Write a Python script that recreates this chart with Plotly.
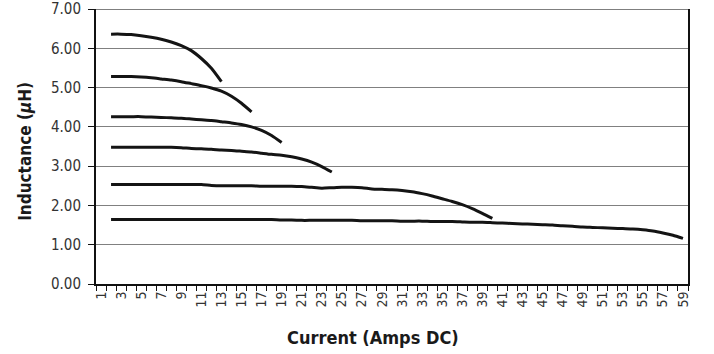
import plotly.graph_objects as go

# Data (Inductance in µH vs Current in Amps DC)
cur_a = list(range(2, 14))
ind_a = [6.36, 6.36, 6.35, 6.32, 6.28, 6.23, 6.16, 6.07, 5.94, 5.74, 5.49, 5.15]

cur_b = list(range(2, 17))
ind_b = [5.28, 5.28, 5.28, 5.27, 5.25, 5.22, 5.19, 5.15, 5.10, 5.05, 4.99, 4.91, 4.78, 4.60, 4.38]

cur_c = list(range(2, 20))
ind_c = [4.26, 4.26, 4.26, 4.26, 4.25, 4.24, 4.23, 4.22, 4.20, 4.18, 4.16, 4.13, 4.10, 4.06,
         4.00, 3.91, 3.78, 3.60]

cur_d = list(range(2, 25))
ind_d = [3.48, 3.48, 3.48, 3.48, 3.48, 3.48, 3.48, 3.47, 3.45, 3.44, 3.43, 3.41, 3.40, 3.38,
         3.36, 3.33, 3.30, 3.28, 3.24, 3.18, 3.10, 2.99, 2.85]

cur_e = list(range(2, 41))
ind_e = [2.53, 2.53, 2.53, 2.53, 2.53, 2.53, 2.53, 2.53, 2.53, 2.53, 2.51, 2.50, 2.50, 2.50,
         2.50, 2.49, 2.49, 2.49, 2.49, 2.48, 2.46, 2.44, 2.45, 2.46, 2.46, 2.45, 2.42, 2.41,
         2.40, 2.38, 2.35, 2.30, 2.24, 2.17, 2.10, 2.02, 1.92, 1.80, 1.67]

cur_f = list(range(2, 60))
ind_f = [1.64, 1.64, 1.64, 1.64, 1.64, 1.64, 1.64, 1.64, 1.64, 1.64, 1.64, 1.64, 1.64, 1.64,
         1.64, 1.64, 1.64, 1.63, 1.63, 1.62, 1.62, 1.62, 1.62, 1.62, 1.62, 1.61, 1.61, 1.61,
         1.61, 1.60, 1.60, 1.60, 1.59, 1.59, 1.59, 1.58, 1.57, 1.57, 1.56, 1.55, 1.54, 1.53,
         1.52, 1.51, 1.50, 1.48, 1.47, 1.45, 1.44, 1.43, 1.42, 1.41, 1.40, 1.38, 1.35, 1.30,
         1.24, 1.16]

x_categories = list(range(1, 60))
x_tick_vals = list(range(1, 60, 2))
y_tick_vals = [0, 1, 2, 3, 4, 5, 6, 7]

FONT = "Liberation Sans Narrow, DejaVu Sans Condensed, Roboto, sans-serif"

fig = go.Figure()
for xs, ys in [(cur_a, ind_a), (cur_b, ind_b), (cur_c, ind_c),
               (cur_d, ind_d), (cur_e, ind_e), (cur_f, ind_f)]:
    fig.add_trace(go.Scatter(x=xs, y=ys, mode="lines",
                             line=dict(color="#141414", width=3, shape="spline", smoothing=0.6),
                             showlegend=False, hoverinfo="skip"))

fig.update_layout(
    width=714, height=354,
    margin=dict(l=96, r=26, t=9, b=70, autoexpand=False),
    paper_bgcolor="white", plot_bgcolor="white",
    font=dict(family=FONT, color="#222"),
    xaxis=dict(
        range=[0.5, 59.5], tickmode="array", tickvals=x_tick_vals,
        ticktext=[str(v) for v in x_tick_vals], tickangle=-90, automargin=False,
        ticks="", ticklen=0, showgrid=False, zeroline=False,
        showline=True, linecolor="#111", linewidth=2,
        tickfont=dict(size=14, family=FONT, color="#333"),
        minor=dict(tickmode="array", tickvals=[c - 0.5 for c in x_categories] + [59.5],
                   ticks="outside", ticklen=5, tickcolor="#111", tickwidth=1, showgrid=False),
    ),
    yaxis=dict(
        range=[0, 7], tickmode="array", tickvals=y_tick_vals, tickformat=".2f",
        ticks="outside", ticklen=6, tickcolor="#111", tickwidth=1, automargin=False,
        showgrid=True, gridcolor="#808080", gridwidth=1, zeroline=False,
        showline=True, linecolor="#111", linewidth=2, mirror=True,
        tickfont=dict(size=15, family=FONT, color="#333"), ticklabelstandoff=4,
    ),
    shapes=[dict(type="line", xref="paper", yref="y", x0=0, x1=1, y0=7, y1=7,
                 line=dict(color="#555", width=1.5))],
    annotations=[
        dict(text="<b>Current (Amps DC)</b>", xref="paper", yref="paper",
             x=0.468, y=-0.193, showarrow=False, xanchor="center", yanchor="middle",
             font=dict(size=18, family=FONT, color="#1a1a1a")),
        dict(text="<b>Inductance (<i>µ</i>H)</b>", xref="paper", yref="paper",
             x=-0.12, y=0.484, showarrow=False, textangle=-90,
             xanchor="center", yanchor="middle",
             font=dict(size=17, family=FONT, color="#1a1a1a")),
    ],
)

fig.write_html("out.html")
